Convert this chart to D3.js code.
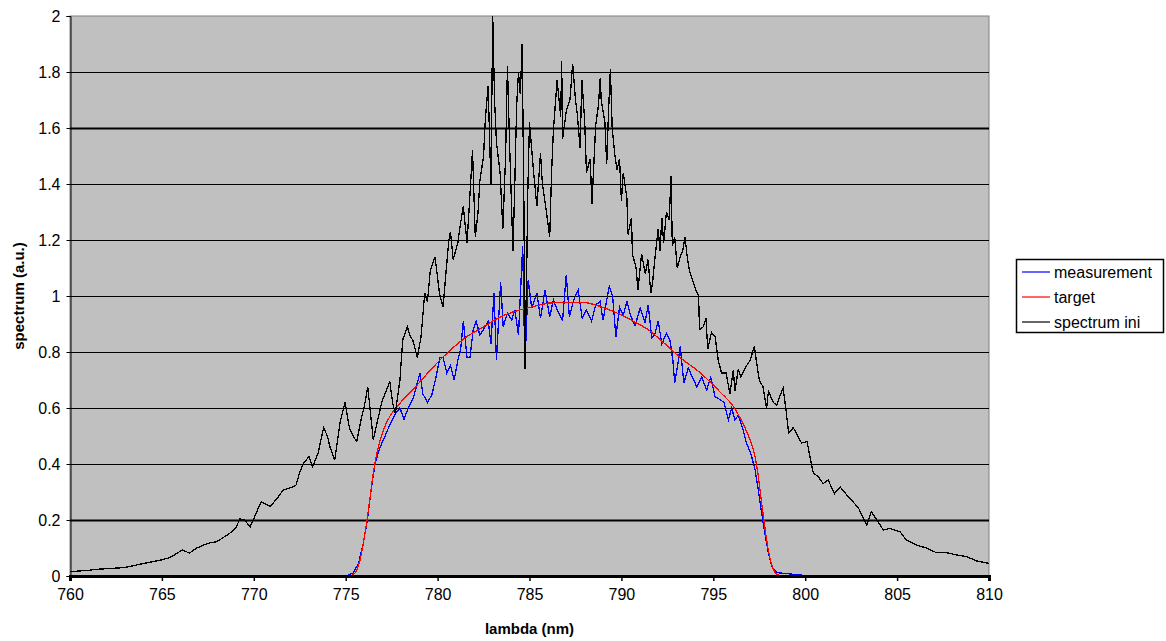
<!DOCTYPE html>
<html>
<head>
<meta charset="utf-8">
<script src="https://cdn.jsdelivr.net/npm/d3@7"></script>
<style>
  body { margin: 0; background: #fff; }
  text { font-family: "Liberation Sans", Arial, sans-serif; }
</style>
</head>
<body>
<svg id="chart" width="1166" height="641"></svg>
<script>
// spectrum ini (black)
const iniLambda = [760.0,760.5,761.0,761.45,762.0,762.7,763.2,763.6,764.0,764.5,765.0,765.4,765.8,766.1,766.5,766.9,767.25,767.6,768.0,768.4,768.7,769.0,769.25,769.5,769.8,770.1,770.4,770.9,771.3,771.6,772.0,772.3,772.5,772.7,773.0,773.2,773.5,773.8,774.0,774.15,774.4,774.7,774.96,775.2,775.4,775.6,775.87,776.0,776.2,776.35,776.5,776.75,777.0,777.2,777.4,777.55,777.7,777.95,778.1,778.35,778.5,778.66,778.9,779.1,779.3,779.45,779.6,779.86,780.1,780.3,780.45,780.6,780.7,780.85,781.1,781.25,781.4,781.6,781.75,781.9,782.05,782.2,782.3,782.5,782.6,782.75,782.9,783.0,783.1,783.2,783.4,783.55,783.7,783.8,783.9,784.1,784.2,784.3,784.4,784.5,784.6,784.7,784.75,784.85,784.9,785.0,785.2,785.4,785.6,785.7,785.9,786.1,786.2,786.3,786.5,786.7,786.75,786.8,787.0,787.2,787.35,787.5,787.6,787.75,787.85,788.0,788.1,788.3,788.4,788.6,788.75,788.85,788.9,789.1,789.2,789.3,789.4,789.5,789.65,789.76,789.9,790.0,790.1,790.3,790.36,790.55,790.6,790.8,790.9,791.1,791.3,791.45,791.6,791.7,791.8,792.0,792.1,792.2,792.3,792.45,792.6,792.7,792.77,792.9,793.04,793.2,793.33,793.46,793.6,793.7,793.9,794.05,794.2,794.25,794.46,794.6,794.7,794.9,795.1,795.27,795.45,795.7,795.9,796.09,796.18,796.36,796.5,796.8,797.0,797.23,797.36,797.5,797.7,797.9,798.0,798.26,798.45,798.6,798.8,798.96,799.1,799.35,799.6,799.8,800.1,800.26,800.44,800.7,800.98,801.25,801.5,801.6,801.9,802.26,802.6,802.9,803.16,803.35,803.6,803.9,804.25,804.6,805.16,805.5,806.07,806.6,807.15,807.7,808.24,808.79,809.33,810.0];
const iniValue = [0.015,0.018,0.02,0.024,0.026,0.029,0.033,0.039,0.045,0.051,0.058,0.065,0.08,0.093,0.082,0.1,0.11,0.118,0.123,0.14,0.153,0.17,0.204,0.2,0.175,0.22,0.265,0.248,0.28,0.307,0.315,0.325,0.37,0.403,0.426,0.39,0.44,0.53,0.5,0.46,0.414,0.55,0.62,0.53,0.5,0.48,0.57,0.6,0.676,0.58,0.486,0.56,0.63,0.66,0.694,0.62,0.58,0.70,0.843,0.89,0.86,0.84,0.78,0.855,1.01,0.98,1.09,1.14,1.01,0.96,1.08,1.19,1.23,1.13,1.19,1.26,1.32,1.19,1.35,1.52,1.21,1.3,1.41,1.5,1.635,1.75,1.4,2.0,1.7,1.55,1.44,1.24,1.5,1.82,1.58,1.16,1.4,1.68,1.8,1.72,1.9,1.3,0.74,1.1,1.35,1.62,1.46,1.32,1.51,1.4,1.31,1.21,1.44,1.59,1.77,1.64,1.84,1.56,1.66,1.7,1.83,1.7,1.65,1.53,1.77,1.63,1.44,1.49,1.33,1.61,1.68,1.78,1.7,1.62,1.47,1.66,1.81,1.6,1.5,1.45,1.49,1.34,1.44,1.35,1.22,1.28,1.15,1.1,1.02,1.15,1.08,1.13,1.01,1.05,1.12,1.24,1.16,1.28,1.19,1.3,1.27,1.43,1.18,1.21,1.1,1.14,1.16,1.21,1.13,1.09,1.05,1.02,1.0,0.88,0.89,0.92,0.81,0.87,0.855,0.77,0.725,0.725,0.65,0.735,0.66,0.74,0.71,0.75,0.77,0.82,0.76,0.70,0.676,0.6,0.66,0.62,0.61,0.64,0.67,0.59,0.51,0.53,0.5,0.475,0.48,0.426,0.368,0.355,0.33,0.343,0.307,0.295,0.318,0.29,0.265,0.243,0.207,0.182,0.23,0.2,0.164,0.17,0.158,0.129,0.11,0.1,0.083,0.083,0.075,0.069,0.054,0.045];

// measurement (blue)
const measLambda = [775.0,775.4,775.7,775.96,776.18,776.36,776.6,776.87,777.14,777.4,777.7,777.95,778.17,778.4,778.7,779.04,779.2,779.45,779.68,779.86,780.13,780.3,780.5,780.7,780.9,781.13,781.25,781.4,781.6,781.76,781.94,782.1,782.3,782.5,782.76,782.9,783.07,783.2,783.43,783.57,783.8,784.03,784.2,784.4,784.63,784.75,784.93,785.12,785.4,785.6,785.84,786.1,786.3,786.57,786.8,787.0,787.17,787.4,787.65,787.87,788.1,788.38,788.6,788.84,789.0,789.34,789.52,789.7,789.9,790.1,790.3,790.5,790.74,791.02,791.28,791.46,791.65,791.8,792.0,792.2,792.46,792.64,792.8,792.9,793.1,793.2,793.4,793.64,793.88,794.1,794.37,794.64,794.86,795.1,795.37,795.58,795.82,796.0,796.18,796.36,796.63,796.8,797.03,797.27,797.45,797.63,797.8,798.0,798.18,798.45,799.2,799.8,800.2];
const measValue = [0,0.01,0.045,0.118,0.2,0.296,0.403,0.46,0.5,0.54,0.58,0.6,0.56,0.6,0.64,0.725,0.65,0.62,0.646,0.694,0.78,0.78,0.725,0.753,0.70,0.78,0.807,0.91,0.78,0.78,0.88,0.91,0.86,0.88,0.91,0.83,1.01,0.77,1.05,0.89,0.94,0.914,0.95,0.86,1.18,0.75,1.057,0.956,1.01,0.92,1.02,0.926,0.986,0.94,0.914,1.075,0.926,0.986,1.02,0.92,0.95,0.91,0.968,0.98,0.914,1.035,1.0,0.855,0.96,0.93,0.98,0.93,0.893,0.957,0.905,0.968,0.85,0.86,0.91,0.83,0.867,0.843,0.77,0.69,0.77,0.82,0.69,0.743,0.707,0.676,0.71,0.664,0.71,0.64,0.63,0.62,0.557,0.6,0.557,0.575,0.52,0.475,0.44,0.38,0.307,0.225,0.153,0.082,0.033,0.012,0.007,0.003,0];

// target (red)
const targLambda = [775.0,775.2,775.5,775.78,775.96,776.14,776.33,776.5,776.7,777.05,777.4,777.95,778.86,779.77,780.7,781.6,782.5,783.4,784.3,785.2,786.1,787.0,787.93,788.84,789.74,790.65,791.56,792.1,793.2,794.3,795.4,796.1,796.6,797.0,797.27,797.45,797.63,797.8,797.99,798.18,798.4,798.7,799.0];
const targValue = [0,0,0.01,0.057,0.118,0.19,0.283,0.367,0.44,0.52,0.57,0.617,0.68,0.747,0.807,0.855,0.89,0.925,0.947,0.962,0.975,0.978,0.977,0.963,0.94,0.91,0.875,0.845,0.78,0.725,0.655,0.605,0.546,0.486,0.426,0.355,0.26,0.176,0.093,0.039,0.01,0,0];

const xTicks = [760,765,770,775,780,785,790,795,800,805,810];
const yTicks = [0,0.2,0.4,0.6,0.8,1,1.2,1.4,1.6,1.8,2];
const legendNames = ["measurement","target","spectrum ini"];
const legendColors = ["#0000ff","#ff0000","#000000"];

const svg = d3.select("#chart");
const plotLeft = 70, plotRight = 989, plotTop = 16, plotBottom = 576;

const x = d3.scaleLinear().domain([760, 810]).range([plotLeft, plotRight]);
const y = d3.scaleLinear().domain([0, 2]).range([plotBottom, plotTop]);

// plot area
svg.append("rect")
  .attr("x", plotLeft).attr("y", plotTop)
  .attr("width", plotRight - plotLeft).attr("height", plotBottom - plotTop)
  .style("fill", "#c0c0c0")
  .style("stroke", "#808080")
  .style("stroke-width", 1);

// gridlines (some look heavier in the reference)
svg.append("g").selectAll("line")
  .data(yTicks.slice(1, -1))
  .join("line")
  .attr("x1", plotLeft).attr("x2", plotRight)
  .attr("y1", d => Math.round(y(d)) + 0.5)
  .attr("y2", d => Math.round(y(d)) + 0.5)
  .style("stroke", "#000")
  .style("stroke-width", d => (d === 0.2 || d === 1.6) ? 2 : 1);

const line = d3.line().x(d => x(d[0])).y(d => y(d[1]));

svg.append("path")
  .datum(d3.zip(measLambda, measValue))
  .attr("d", line)
  .attr("shape-rendering", "crispEdges")
  .style("fill", "none").style("stroke", "#0000ff").style("stroke-width", 1.3);

svg.append("path")
  .datum(d3.zip(targLambda, targValue))
  .attr("d", d3.line().x(d => x(d[0])).y(d => y(d[1])).curve(d3.curveMonotoneX))
  .attr("shape-rendering", "crispEdges")
  .style("fill", "none").style("stroke", "#ff0000").style("stroke-width", 1.3);

svg.append("path")
  .datum(d3.zip(iniLambda, iniValue))
  .attr("d", line)
  .attr("shape-rendering", "crispEdges")
  .style("fill", "none").style("stroke", "#000").style("stroke-width", 1.3);

// y axis
const yAxis = svg.append("g")
  .attr("transform", `translate(${plotLeft + 0.5},0)`)
  .call(d3.axisLeft(y).tickValues(yTicks).tickSize(4).tickPadding(6)
    .tickFormat(d => String(d)));
yAxis.select(".domain").style("stroke", "#000");
yAxis.selectAll("line").style("stroke", "#000");
yAxis.selectAll("text").style("font-size", "16px").style("fill", "#000")
  .style("font-family", "'Liberation Sans', Arial, sans-serif");

// x axis
const xAxis = svg.append("g")
  .attr("transform", `translate(0,${plotBottom})`)
  .call(d3.axisBottom(x).tickValues(xTicks).tickSize(5).tickPadding(8)
    .tickFormat(d3.format("d")));
xAxis.select(".domain").style("stroke", "#000").style("stroke-width", 3);
xAxis.selectAll("line").style("stroke", "#000").style("stroke-width", 1.5);
xAxis.selectAll("text").style("font-size", "16px").style("fill", "#000")
  .style("font-family", "'Liberation Sans', Arial, sans-serif");

// axis titles
svg.append("text")
  .attr("x", (plotLeft + plotRight) / 2).attr("y", 634)
  .attr("text-anchor", "middle")
  .style("font-size", "15px").style("font-weight", "bold")
  .text("lambda (nm)");

svg.append("text")
  .attr("transform", `translate(24,${(plotTop + plotBottom) / 2}) rotate(-90)`)
  .attr("text-anchor", "middle")
  .style("font-size", "15px").style("font-weight", "bold")
  .text("spectrum (a.u.)");

// legend
const lg = svg.append("g").attr("transform", "translate(1016,259)");
lg.append("rect")
  .attr("x", 0.5).attr("y", 0.5).attr("width", 147).attr("height", 73)
  .style("fill", "#fff").style("stroke", "#000").style("stroke-width", 1.5);
legendNames.forEach((name, i) => {
  const ly = 13 + i * 25;
  lg.append("line")
    .attr("x1", 6).attr("x2", 34).attr("y1", ly).attr("y2", ly)
    .style("stroke", legendColors[i]).style("stroke-width", 1.2);
  lg.append("text")
    .attr("x", 38).attr("y", ly).attr("dy", "0.35em")
    .style("font-size", "16px")
    .text(name);
});
</script>
</body>
</html>
